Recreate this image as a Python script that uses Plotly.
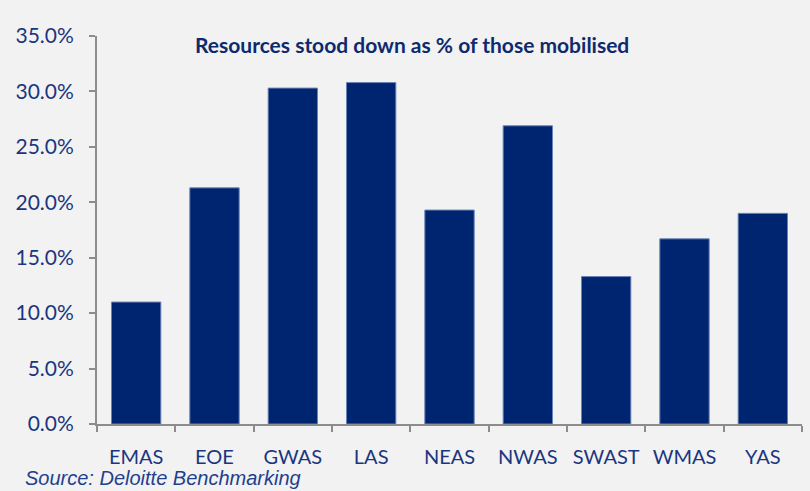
import plotly.graph_objects as go

# Ambulance services and share of resources stood down (%)
services = ["EMAS", "EOE", "GWAS", "LAS", "NEAS", "NWAS", "SWAST", "WMAS", "YAS"]
stood_down_pct = [11.0, 21.3, 30.3, 30.8, 19.3, 26.9, 13.3, 16.7, 19.0]

y_ticks = [0, 5, 10, 15, 20, 25, 30, 35]
y_tick_labels = [f"{v:.1f}%" for v in y_ticks]

title_text = "Resources stood down as % of those mobilised"
source_text = "Source: Deloitte Benchmarking"

navy = "#002570"
text_navy = "#1B3680"
axis_grey = "#8C8C8C"
bg = "#F2F2F2"

# Plot-area geometry in pixels
W, H = 810, 491
ML, MR, MT, MB = 97, 8, 36, 67
plot_w = W - ML - MR
plot_h = H - MT - MB

fig = go.Figure(
    go.Bar(
        x=services,
        y=stood_down_pct,
        marker=dict(color=navy, line=dict(color="#6A82B8", width=1)),
        hoverinfo="x+y",
    )
)

fig.update_layout(
    width=W,
    height=H,
    margin=dict(l=ML, r=MR, t=MT, b=MB),
    paper_bgcolor=bg,
    plot_bgcolor=bg,
    bargap=0.37,
    showlegend=False,
    font=dict(family="Lato, Carlito, sans-serif", color=text_navy, size=20),
)

fig.update_xaxes(
    showgrid=False,
    showline=True,
    linecolor=axis_grey,
    linewidth=2,
    ticks="outside",
    tickson="boundaries",
    ticklen=6,
    tickwidth=2,
    tickcolor=axis_grey,
    ticklabelstandoff=14,
    tickfont=dict(size=20, color=text_navy),
)

fig.update_yaxes(
    range=[0, 35],
    tickvals=y_ticks,
    ticktext=y_tick_labels,
    showgrid=False,
    zeroline=False,
    showline=True,
    linecolor=axis_grey,
    linewidth=2,
    ticks="outside",
    ticklen=6,
    tickwidth=2,
    tickcolor=axis_grey,
    ticklabelstandoff=11,
    tickfont=dict(size=21, color=text_navy),
)

# Chart title, centred above the bars
fig.add_annotation(
    text=f"<b>{title_text}</b>",
    x=(412 - ML) / plot_w, y=(H - MB - 44) / plot_h,
    xref="paper", yref="paper",
    showarrow=False, xanchor="center", yanchor="middle",
    font=dict(family="Lato, sans-serif", size=21, color="#0E2A6E"),
)

# Source note in the bottom-left corner
fig.add_annotation(
    text=f"<i>{source_text}</i>",
    x=(23 - ML) / plot_w, y=(H - MB - H) / plot_h,
    xref="paper", yref="paper",
    showarrow=False, xanchor="left", yanchor="bottom",
    font=dict(family="Liberation Sans, Arial, sans-serif", size=20, color="#1F3F8F"),
)

fig.write_html("out.html")
